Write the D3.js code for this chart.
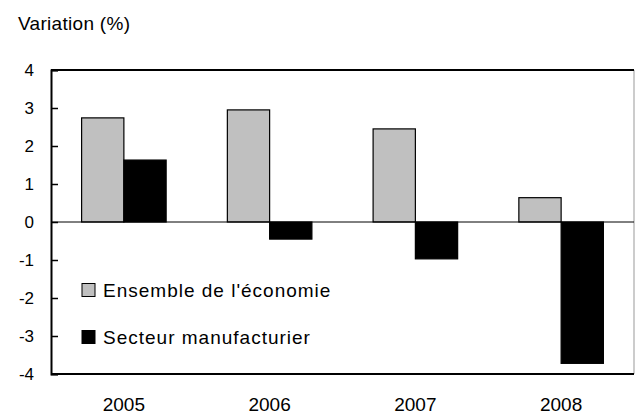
<!DOCTYPE html>
<html>
<head>
<meta charset="utf-8">
<script src="https://cdn.jsdelivr.net/npm/d3@7"></script>
<style>
  body { margin: 0; background: #fff; }
  text { font-family: "Liberation Sans", Arial, sans-serif; fill: #000; }
</style>
</head>
<body>
<div id="chart"></div>
<script>
// Variation annuelle (%) - barres groupées

const years = ['2005', '2006', '2007', '2008'];
const ensemble = [2.74, 2.95, 2.45, 0.64];
const manufacturier = [1.63, -0.45, -0.97, -3.72];
const seriesNames = ["Ensemble de l'économie", 'Secteur manufacturier'];
const yTicks = [-4, -3, -2, -1, 0, 1, 2, 3, 4];

const totalWidth = 635, totalHeight = 415;
const margin = { top: 70, right: 1, bottom: 41, left: 51 };
const width = totalWidth - margin.left - margin.right;
const height = totalHeight - margin.top - margin.bottom;

const svg = d3.select('#chart').append('svg')
    .attr('width', totalWidth)
    .attr('height', totalHeight);

svg.append('text')
    .attr('x', 18)
    .attr('y', 30)
    .style('font-size', '19px')
    .style('letter-spacing', '0.3px')
    .text('Variation (%)');

const g = svg.append('g')
    .attr('transform', `translate(${margin.left},${margin.top})`);

const x = d3.scaleBand().domain(years).range([0, width]).paddingInner(0.42).paddingOuter(0.21);
const x1 = d3.scaleBand().domain([0, 1]).range([0, x.bandwidth()]);
const y = d3.scaleLinear().domain([-4, 4]).range([height, 0]);
const colors = ['#c0c0c0', '#000000'];

// frame
g.append('line').attr('x1', width).attr('x2', width).attr('y1', 0).attr('y2', height)
    .attr('stroke', '#999').attr('stroke-width', 1);
g.append('line').attr('x1', 0).attr('x2', width).attr('y1', 0).attr('y2', 0)
    .attr('stroke', '#000').attr('stroke-width', 2);
g.append('line').attr('x1', 0).attr('x2', width).attr('y1', height).attr('y2', height)
    .attr('stroke', '#000').attr('stroke-width', 2);

// bars
const data = years.map((yr, i) => ({ year: yr, values: [ensemble[i], manufacturier[i]] }));
const groups = g.selectAll('.grp').data(data).enter().append('g')
    .attr('transform', d => `translate(${x(d.year)},0)`);
groups.selectAll('rect')
    .data(d => d.values.map((v, k) => ({ v, k })))
    .enter().append('rect')
    .attr('x', d => x1(d.k))
    .attr('width', x1.bandwidth())
    .attr('y', d => y(Math.max(0, d.v)))
    .attr('height', d => Math.abs(y(d.v) - y(0)))
    .attr('fill', d => colors[d.k])
    .attr('stroke', '#000')
    .attr('stroke-width', 1.2);

// zero line
g.append('line').attr('x1', 0).attr('x2', width).attr('y1', y(0)).attr('y2', y(0))
    .attr('stroke', '#000').attr('stroke-width', 1);

// y axis
const yAxis = g.append('g')
    .call(d3.axisLeft(y).tickValues(yTicks).tickSize(-7).tickPadding(17).tickFormat(d => String(d)));
yAxis.select('.domain').attr('stroke-width', 2);
yAxis.selectAll('.tick line').attr('stroke-width', 1.5);
yAxis.selectAll('text').style('font-size', '17px');

// x labels
g.append('g')
    .attr('transform', `translate(0,${height})`)
    .call(d3.axisBottom(x).tickSize(0).tickPadding(24))
    .call(a => a.select('.domain').remove())
    .selectAll('text').style('font-size', '19px');

// legend
const legend = g.append('g').attr('transform', `translate(31, ${290 - margin.top})`);
const items = legend.selectAll('.item').data(seriesNames).enter().append('g')
    .attr('transform', (d, i) => `translate(0,${i * 47})`);
items.append('rect')
    .attr('x', 0).attr('y', -6.5).attr('width', 13).attr('height', 13)
    .attr('fill', (d, i) => colors[i]).attr('stroke', '#000').attr('stroke-width', 1);
items.append('text')
    .attr('x', 21).attr('y', 0).attr('dy', '0.36em')
    .style('font-size', '19px')
    .style('letter-spacing', '1px')
    .text(d => d);
</script>
</body>
</html>
